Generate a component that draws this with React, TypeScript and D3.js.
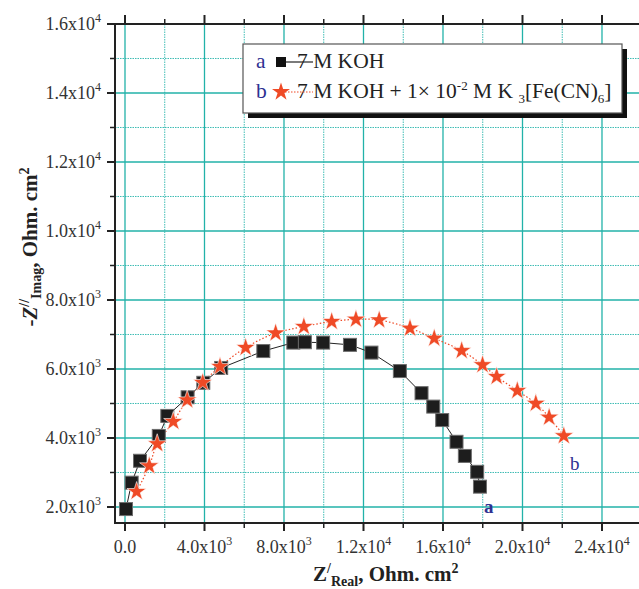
import React from "react";
import * as d3 from "d3";

const aX = [50, 335, 755, 1700, 2130, 3150, 3940, 4840, 6960, 8470, 9050, 9970, 11320, 12400, 13830, 14920, 15510, 15960, 16680, 17100, 17720, 17860];
const aY = [1940, 2705, 3340, 4060, 4640, 5180, 5600, 6030, 6520, 6765, 6775, 6765, 6700, 6475, 5940, 5300, 4910, 4520, 3890, 3480, 3020, 2590];
const bX = [585, 1220, 1620, 2430, 3130, 3910, 4780, 6070, 7580, 9000, 10400, 11620, 12790, 14340, 15560, 16940, 17990, 18700, 19740, 20670, 21340, 22080];
const bY = [2445, 3190, 3830, 4475, 5100, 5605, 6070, 6620, 7040, 7230, 7375, 7440, 7420, 7180, 6890, 6530, 6120, 5780, 5370, 5000, 4600, 4060];

const xMajor = [0, 4000, 8000, 12000, 16000, 20000, 24000];
const xMajorMant = ["0.0", "4.0", "8.0", "1.2", "1.6", "2.0", "2.4"];
const xMajorExp = ["", "3", "3", "4", "4", "4", "4"];
const xMinor = [2000, 6000, 10000, 14000, 18000, 22000];
const yMajor = [2000, 4000, 6000, 8000, 10000, 12000, 14000, 16000];
const yMajorMant = ["2.0", "4.0", "6.0", "8.0", "1.0", "1.2", "1.4", "1.6"];
const yMajorExp = ["3", "3", "3", "3", "4", "4", "4", "4"];
const yMinor = [3000, 5000, 7000, 9000, 11000, 13000, 15000];

const W = 639, H = 589;
const L = 115, R = 639, T = 24, B = 523;
const FONT = "Liberation Serif, Times New Roman, serif";
const GRID = "#22b2a9";
const GRID_MINOR = "#3fbdb5";
const RED = "#ef4a26";
const BLUE = "#2e3192";

export default function App() {
  const x = d3.scaleLinear().domain([-503, 25862]).range([L, R]);
  const y = d3.scaleLinear().domain([1536, 16000]).range([B, T]);
  const aPts: [number, number][] = aX.map((v, i) => [v, aY[i]]);
  const bPts: [number, number][] = bX.map((v, i) => [v, bY[i]]);
  const line = d3.line<[number, number]>().x(d => x(d[0])).y(d => y(d[1]));
  const lineB = d3.line<[number, number]>().x(d => x(d[0])).y(d => y(d[1])).curve(d3.curveCatmullRom);
  const star = d3.symbol().type(d3.symbolStar).size(115)() as string;
  const starL = d3.symbol().type(d3.symbolStar).size(100)() as string;

  return (
    <svg width={W} height={H} style={{ position: "absolute", left: 0, top: 0, background: "#fff", fontFamily: FONT }}>
      {/* grid */}
      {xMinor.map((v, i) => (
        <line key={"xm" + i} x1={x(v)} x2={x(v)} y1={T} y2={B} stroke={GRID_MINOR} strokeWidth={1} strokeDasharray="1.5,1" />
      ))}
      {yMinor.map((v, i) => (
        <line key={"ym" + i} x1={L} x2={R} y1={y(v)} y2={y(v)} stroke={GRID_MINOR} strokeWidth={1} strokeDasharray="1.5,1" />
      ))}
      {xMajor.map((v, i) => (
        <line key={"xM" + i} x1={x(v)} x2={x(v)} y1={T} y2={B} stroke={GRID} strokeWidth={1.3} />
      ))}
      {yMajor.map((v, i) => (
        <line key={"yM" + i} x1={L} x2={R} y1={y(v)} y2={y(v)} stroke={GRID} strokeWidth={1.3} />
      ))}

      {/* axes frame */}
      <line x1={L} x2={R} y1={T} y2={T} stroke="#222" strokeWidth={2} />
      <line x1={L} x2={R} y1={B} y2={B} stroke="#222" strokeWidth={2} />
      <line x1={L} x2={L} y1={T - 1} y2={B + 1} stroke="#222" strokeWidth={2} />

      {/* ticks */}
      {xMajor.map((v, i) => (
        <g key={"xt" + i}>
          <line x1={x(v)} x2={x(v)} y1={B} y2={B + 8} stroke="#222" strokeWidth={2} />
          <line x1={x(v)} x2={x(v)} y1={T} y2={T - 9} stroke="#222" strokeWidth={2} />
        </g>
      ))}
      {xMinor.map((v, i) => (
        <g key={"xtm" + i}>
          <line x1={x(v)} x2={x(v)} y1={B} y2={B + 5} stroke="#222" strokeWidth={1.5} />
          <line x1={x(v)} x2={x(v)} y1={T} y2={T - 5} stroke="#222" strokeWidth={1.5} />
        </g>
      ))}
      {yMajor.map((v, i) => (
        <line key={"yt" + i} x1={L} x2={L - 8} y1={y(v)} y2={y(v)} stroke="#222" strokeWidth={2} />
      ))}
      {yMinor.map((v, i) => (
        <line key={"ytm" + i} x1={L} x2={L - 5} y1={y(v)} y2={y(v)} stroke="#222" strokeWidth={1.5} />
      ))}

      {/* tick labels */}
      {xMajor.map((v, i) => (
        <text key={"xl" + i} x={x(v)} y={553} textAnchor="middle" fontSize={18} fill="#333">
          {xMajorMant[i]}
          {xMajorExp[i] ? <tspan>x10</tspan> : null}
          {xMajorExp[i] ? <tspan dy={-8} fontSize={12}>{xMajorExp[i]}</tspan> : null}
        </text>
      ))}
      {yMajor.map((v, i) => (
        <text key={"yl" + i} x={101} y={y(v) + 6} textAnchor="end" fontSize={18} fill="#333">
          {yMajorMant[i]}x10
          <tspan dy={-8} fontSize={12}>{yMajorExp[i]}</tspan>
        </text>
      ))}

      {/* axis titles */}
      <text x={313} y={581} fontSize={21} fontWeight="bold" fill="#222">
        Z<tspan dy={-8} fontSize={14}>/</tspan>
        <tspan dy={13} fontSize={14}>Real</tspan>
        <tspan dy={-5}>, Ohm. cm</tspan>
        <tspan dy={-8} fontSize={14}>2</tspan>
      </text>
      <text transform="translate(37,247) rotate(-90)" textAnchor="middle" fontSize={21} fontWeight="bold" fill="#222">
        -<tspan fontStyle="italic">Z</tspan>
        <tspan dy={-8} fontSize={14}>//</tspan>
        <tspan dy={12} fontSize={14}>Imag</tspan>
        <tspan dy={-4}>, Ohm. cm</tspan>
        <tspan dy={-8} fontSize={14}>2</tspan>
      </text>

      {/* series lines */}
      <path d={line(aPts) || ""} fill="none" stroke="#222" strokeWidth={1} />
      <path d={lineB(bPts) || ""} fill="none" stroke={RED} strokeWidth={1.2} strokeDasharray="1.5,2" />

      {/* markers */}
      {aPts.map((d, i) => (
        <rect key={"a" + i} x={x(d[0]) - 6.5} y={y(d[1]) - 6.5} width={13} height={13} fill="#1d1d1d" stroke="#6d6d6d" strokeWidth={1} />
      ))}
      {bPts.map((d, i) => (
        <path key={"b" + i} d={star} transform={`translate(${x(d[0])},${y(d[1])})`} fill={RED} stroke="#fff" strokeWidth={0.6} />
      ))}

      {/* series labels */}
      <text x={484} y={513} fontSize={19} fontWeight="bold" fill={BLUE}>a</text>
      <text x={570} y={470} fontSize={19} fill={BLUE}>b</text>

      {/* legend */}
      <rect x={248} y={49} width={379} height={69} fill="#111" />
      <rect x={243} y={44} width={379} height={69} fill="#fff" stroke="#555" strokeWidth={1.2} />
      <text x={256} y={68} fontSize={21.5} fill={BLUE}>a</text>
      <text x={297} y={68} fontSize={21.5} fill="#222">7 M KOH</text>
      <line x1={281} x2={313} y1={62} y2={62} stroke="#222" strokeWidth={1.2} />
      <rect x={276} y={57} width={10} height={10} fill="#111" />
      <text x={256} y={98} fontSize={21.5} fill={BLUE}>b</text>
      <text x={297} y={98} fontSize={21.5} fill="#222">
        7 M KOH + 1× 10<tspan dy={-8} fontSize={13}>-2</tspan>
        <tspan dy={8}> M K </tspan>
        <tspan dy={5} fontSize={13}>3</tspan>
        <tspan dy={-5}>[Fe(CN)</tspan>
        <tspan dy={5} fontSize={13}>6</tspan>
        <tspan dy={-5}>]</tspan>
      </text>
      <line x1={285} x2={313} y1={92} y2={92} stroke={RED} strokeWidth={1.2} strokeDasharray="1.5,1.5" />
      <path d={starL} transform="translate(281,92)" fill={RED} />
    </svg>
  );
}
